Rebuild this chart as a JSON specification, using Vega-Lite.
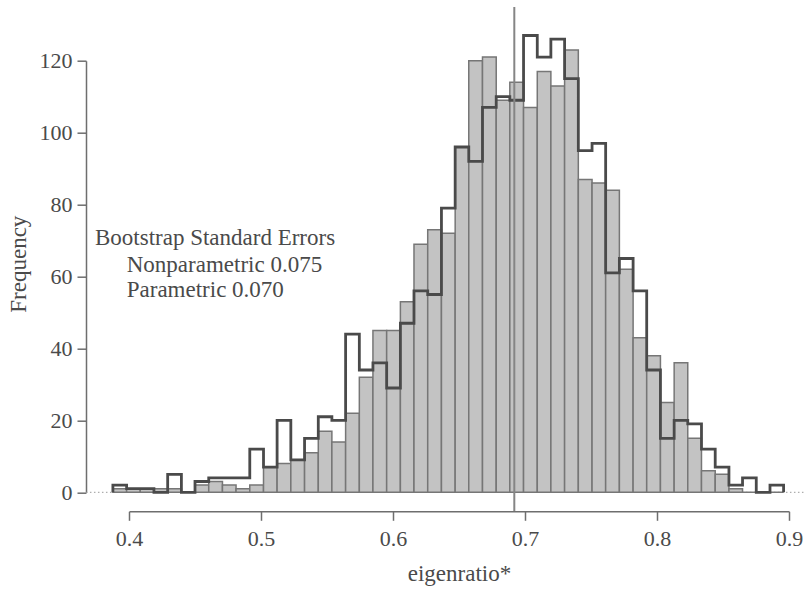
{
  "$schema": "https://vega.github.io/schema/vega-lite/v6.json",
  "width": 660,
  "height": 431.6,
  "autosize": {"type": "none"},
  "padding": {"left": 129, "top": 60.7, "right": 16, "bottom": 100.7},
  "background": "white",
  "config": {
    "view": {"stroke": null},
    "font": "Liberation Serif",
    "axis": {
      "grid": false,
      "labelFlush": false,
      "labelOverlap": false,
      "domainColor": "#6e6e6e",
      "domainWidth": 1.5,
      "tickColor": "#6e6e6e",
      "tickWidth": 1.5,
      "tickSize": 9,
      "labelFont": "Liberation Serif",
      "labelFontSize": 22,
      "labelColor": "#4a4a4a",
      "titleFont": "Liberation Serif",
      "titleFontSize": 23,
      "titleFontWeight": "normal",
      "titleColor": "#4a4a4a"
    }
  },
  "datasets": {
    "bins": [
      {"lo": 0.3878, "hi": 0.3982, "nonparametric": 1, "parametric": 2},
      {"lo": 0.3982, "hi": 0.4085, "nonparametric": 1, "parametric": 1},
      {"lo": 0.4085, "hi": 0.4189, "nonparametric": 1, "parametric": 1},
      {"lo": 0.4189, "hi": 0.4293, "nonparametric": 1, "parametric": 0},
      {"lo": 0.4293, "hi": 0.4397, "nonparametric": 1, "parametric": 5},
      {"lo": 0.4397, "hi": 0.4500, "nonparametric": 0, "parametric": 0},
      {"lo": 0.4500, "hi": 0.4604, "nonparametric": 2, "parametric": 3},
      {"lo": 0.4604, "hi": 0.4708, "nonparametric": 3, "parametric": 4},
      {"lo": 0.4708, "hi": 0.4811, "nonparametric": 2, "parametric": 4},
      {"lo": 0.4811, "hi": 0.4915, "nonparametric": 1, "parametric": 4},
      {"lo": 0.4915, "hi": 0.5019, "nonparametric": 2, "parametric": 12},
      {"lo": 0.5019, "hi": 0.5122, "nonparametric": 7, "parametric": 7},
      {"lo": 0.5122, "hi": 0.5226, "nonparametric": 8, "parametric": 20},
      {"lo": 0.5226, "hi": 0.5330, "nonparametric": 9, "parametric": 9},
      {"lo": 0.5330, "hi": 0.5434, "nonparametric": 11, "parametric": 15},
      {"lo": 0.5434, "hi": 0.5537, "nonparametric": 17, "parametric": 21},
      {"lo": 0.5537, "hi": 0.5641, "nonparametric": 14, "parametric": 20},
      {"lo": 0.5641, "hi": 0.5745, "nonparametric": 22, "parametric": 44},
      {"lo": 0.5745, "hi": 0.5848, "nonparametric": 32, "parametric": 34},
      {"lo": 0.5848, "hi": 0.5952, "nonparametric": 45, "parametric": 36},
      {"lo": 0.5952, "hi": 0.6056, "nonparametric": 45, "parametric": 29},
      {"lo": 0.6056, "hi": 0.6159, "nonparametric": 53, "parametric": 47},
      {"lo": 0.6159, "hi": 0.6263, "nonparametric": 69, "parametric": 56},
      {"lo": 0.6263, "hi": 0.6367, "nonparametric": 73, "parametric": 55},
      {"lo": 0.6367, "hi": 0.6471, "nonparametric": 72, "parametric": 79},
      {"lo": 0.6471, "hi": 0.6574, "nonparametric": 96, "parametric": 96},
      {"lo": 0.6574, "hi": 0.6678, "nonparametric": 120, "parametric": 92},
      {"lo": 0.6678, "hi": 0.6782, "nonparametric": 121, "parametric": 107},
      {"lo": 0.6782, "hi": 0.6885, "nonparametric": 109, "parametric": 110},
      {"lo": 0.6885, "hi": 0.6989, "nonparametric": 114, "parametric": 109},
      {"lo": 0.6989, "hi": 0.7093, "nonparametric": 107, "parametric": 127},
      {"lo": 0.7093, "hi": 0.7196, "nonparametric": 117, "parametric": 121},
      {"lo": 0.7196, "hi": 0.7300, "nonparametric": 113, "parametric": 126},
      {"lo": 0.7300, "hi": 0.7404, "nonparametric": 123, "parametric": 115},
      {"lo": 0.7404, "hi": 0.7508, "nonparametric": 87, "parametric": 95},
      {"lo": 0.7508, "hi": 0.7611, "nonparametric": 86, "parametric": 97},
      {"lo": 0.7611, "hi": 0.7715, "nonparametric": 84, "parametric": 61},
      {"lo": 0.7715, "hi": 0.7819, "nonparametric": 62, "parametric": 65},
      {"lo": 0.7819, "hi": 0.7922, "nonparametric": 43, "parametric": 56},
      {"lo": 0.7922, "hi": 0.8026, "nonparametric": 38, "parametric": 34},
      {"lo": 0.8026, "hi": 0.8130, "nonparametric": 25, "parametric": 15},
      {"lo": 0.8130, "hi": 0.8233, "nonparametric": 36, "parametric": 20},
      {"lo": 0.8233, "hi": 0.8337, "nonparametric": 15, "parametric": 19},
      {"lo": 0.8337, "hi": 0.8441, "nonparametric": 6, "parametric": 12},
      {"lo": 0.8441, "hi": 0.8545, "nonparametric": 5, "parametric": 7},
      {"lo": 0.8545, "hi": 0.8648, "nonparametric": 1, "parametric": 2},
      {"lo": 0.8648, "hi": 0.8752, "nonparametric": 0, "parametric": 4},
      {"lo": 0.8752, "hi": 0.8856, "nonparametric": 0, "parametric": 0},
      {"lo": 0.8856, "hi": 0.8959, "nonparametric": 0, "parametric": 2}
    ],
    "outline": [
      {"k": 0, "edge": 0.3878, "count": 0},
      {"k": 1, "edge": 0.3878, "count": 2},
      {"k": 2, "edge": 0.3982, "count": 1},
      {"k": 3, "edge": 0.4085, "count": 1},
      {"k": 4, "edge": 0.4189, "count": 0},
      {"k": 5, "edge": 0.4293, "count": 5},
      {"k": 6, "edge": 0.4397, "count": 0},
      {"k": 7, "edge": 0.4500, "count": 3},
      {"k": 8, "edge": 0.4604, "count": 4},
      {"k": 9, "edge": 0.4708, "count": 4},
      {"k": 10, "edge": 0.4811, "count": 4},
      {"k": 11, "edge": 0.4915, "count": 12},
      {"k": 12, "edge": 0.5019, "count": 7},
      {"k": 13, "edge": 0.5122, "count": 20},
      {"k": 14, "edge": 0.5226, "count": 9},
      {"k": 15, "edge": 0.5330, "count": 15},
      {"k": 16, "edge": 0.5434, "count": 21},
      {"k": 17, "edge": 0.5537, "count": 20},
      {"k": 18, "edge": 0.5641, "count": 44},
      {"k": 19, "edge": 0.5745, "count": 34},
      {"k": 20, "edge": 0.5848, "count": 36},
      {"k": 21, "edge": 0.5952, "count": 29},
      {"k": 22, "edge": 0.6056, "count": 47},
      {"k": 23, "edge": 0.6159, "count": 56},
      {"k": 24, "edge": 0.6263, "count": 55},
      {"k": 25, "edge": 0.6367, "count": 79},
      {"k": 26, "edge": 0.6471, "count": 96},
      {"k": 27, "edge": 0.6574, "count": 92},
      {"k": 28, "edge": 0.6678, "count": 107},
      {"k": 29, "edge": 0.6782, "count": 110},
      {"k": 30, "edge": 0.6885, "count": 109},
      {"k": 31, "edge": 0.6989, "count": 127},
      {"k": 32, "edge": 0.7093, "count": 121},
      {"k": 33, "edge": 0.7196, "count": 126},
      {"k": 34, "edge": 0.7300, "count": 115},
      {"k": 35, "edge": 0.7404, "count": 95},
      {"k": 36, "edge": 0.7508, "count": 97},
      {"k": 37, "edge": 0.7611, "count": 61},
      {"k": 38, "edge": 0.7715, "count": 65},
      {"k": 39, "edge": 0.7819, "count": 56},
      {"k": 40, "edge": 0.7922, "count": 34},
      {"k": 41, "edge": 0.8026, "count": 15},
      {"k": 42, "edge": 0.8130, "count": 20},
      {"k": 43, "edge": 0.8233, "count": 19},
      {"k": 44, "edge": 0.8337, "count": 12},
      {"k": 45, "edge": 0.8441, "count": 7},
      {"k": 46, "edge": 0.8545, "count": 2},
      {"k": 47, "edge": 0.8648, "count": 4},
      {"k": 48, "edge": 0.8752, "count": 0},
      {"k": 49, "edge": 0.8856, "count": 2},
      {"k": 50, "edge": 0.8959, "count": 2},
      {"k": 51, "edge": 0.8959, "count": 0}
    ],
    "notes": [
      {"text": "Bootstrap Standard Errors", "x": 0.3742, "y": 70.6},
      {"text": "Nonparametric 0.075", "x": 0.3983, "y": 63.2},
      {"text": "Parametric 0.070", "x": 0.3983, "y": 56.3}
    ]
  },
  "layer": [
    {
      "data": {"values": [{}]},
      "mark": {"type": "rule", "stroke": "#9a9a9a", "strokeWidth": 1, "strokeDash": [1.5, 2.5]},
      "encoding": {
        "x": {"datum": 0.3674, "type": "quantitative"},
        "x2": {"datum": 0.9121},
        "y": {"datum": 0, "type": "quantitative"}
      }
    },
    {
      "data": {"name": "bins"},
      "mark": {"type": "rect", "fill": "#c3c3c3", "stroke": "#767676", "strokeWidth": 1.5},
      "encoding": {
        "x": {
          "field": "lo",
          "type": "quantitative",
          "scale": {"domain": [0.4, 0.9], "nice": false, "zero": false},
          "axis": {
            "orient": "bottom",
            "offset": 19,
            "values": [0.4, 0.5, 0.6, 0.7, 0.8, 0.9],
            "format": ".1f",
            "labelPadding": 8,
            "title": "eigenratio*",
            "titlePadding": 13
          }
        },
        "x2": {"field": "hi"},
        "y": {
          "field": "nonparametric",
          "type": "quantitative",
          "scale": {"domain": [0, 120], "nice": false, "zero": true},
          "axis": {
            "orient": "left",
            "offset": 43,
            "values": [0, 20, 40, 60, 80, 100, 120],
            "labelPadding": 5,
            "title": "Frequency",
            "titlePadding": 9,
            "titleY": 203
          }
        },
        "y2": {"datum": 0}
      }
    },
    {
      "data": {"name": "outline"},
      "mark": {"type": "line", "interpolate": "step-after", "stroke": "#4a4a4a", "strokeWidth": 2.8, "strokeJoin": "miter"},
      "encoding": {
        "x": {"field": "edge", "type": "quantitative"},
        "y": {"field": "count", "type": "quantitative"},
        "order": {"field": "k", "type": "quantitative"}
      }
    },
    {
      "data": {"values": [{}]},
      "mark": {"type": "rule", "stroke": "#858585", "strokeWidth": 2},
      "encoding": {
        "x": {"datum": 0.6919, "type": "quantitative"},
        "y": {"datum": -5.2, "type": "quantitative"},
        "y2": {"datum": 134.9}
      }
    },
    {
      "data": {"name": "notes"},
      "mark": {"type": "text", "align": "left", "baseline": "middle", "font": "Liberation Serif", "fontSize": 23, "fill": "#4a4a4a"},
      "encoding": {
        "x": {"field": "x", "type": "quantitative"},
        "y": {"field": "y", "type": "quantitative"},
        "text": {"field": "text"}
      }
    }
  ]
}
